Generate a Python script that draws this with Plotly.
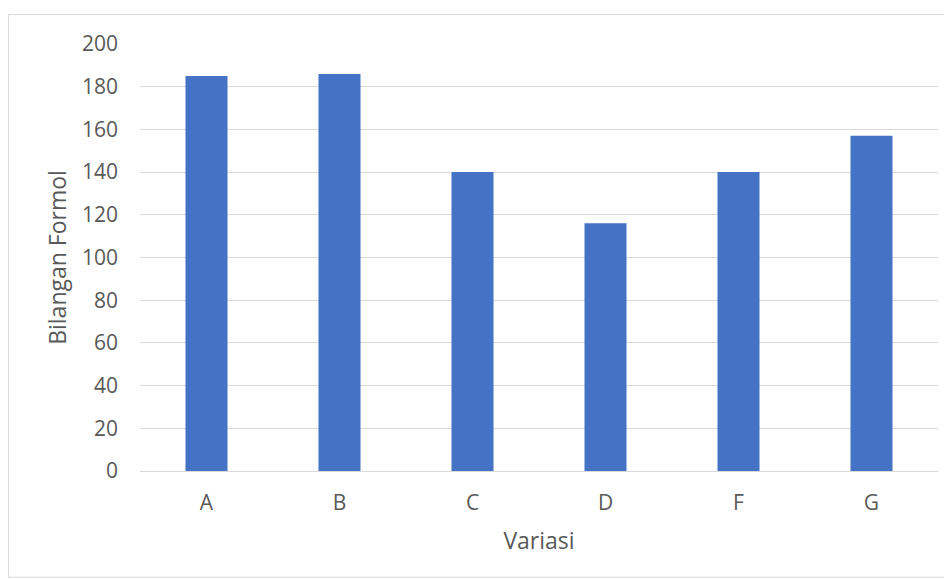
import plotly.graph_objects as go

categories = ["A", "B", "C", "D", "F", "G"]
values = [185, 186, 140, 116, 140, 157]
y_ticks = [0, 20, 40, 60, 80, 100, 120, 140, 160, 180, 200]

# the page body has an 8px margin, so the figure is sized to fit the 952x580 window
W, H = 944, 572
L, R, T, B = 132, 13.5, 35.5, 108.5
pw, ph = W - L - R, H - T - B

def px_x(p):
    return (p - L) / pw

def px_y(p):
    return (H - B - p) / ph

fig = go.Figure(go.Bar(
    x=categories, y=values,
    marker=dict(color="#4472C4", line=dict(width=0)),
))

font = dict(family="Open Sans, Liberation Sans, sans-serif", color="#595959")

fig.update_layout(
    width=W, height=H,
    margin=dict(l=L, r=R, t=T, b=B),
    paper_bgcolor="white", plot_bgcolor="white",
    bargap=0.684,
    showlegend=False,
    font=dict(**font, size=21),
    xaxis=dict(
        showgrid=False, showline=False, zeroline=False,
        ticks="", tickfont=dict(size=21), ticklabelstandoff=17,
        title=dict(text="Variasi", font=dict(size=23), standoff=17),
    ),
    yaxis=dict(
        range=[0, 200], tickvals=y_ticks,
        showgrid=True, gridcolor="#d9d9d9", gridwidth=1.4,
        zeroline=True, zerolinecolor="#d9d9d9", zerolinewidth=1.4,
        showline=False, ticks="", ticklabelstandoff=21,
        tickfont=dict(size=21),
        title=dict(text="Bilangan Formol", font=dict(size=23), standoff=8),
    ),
    shapes=[dict(
        type="rect", xref="paper", yref="paper",
        x0=px_x(0.5), x1=px_x(W + 2), y0=px_y(570), y1=px_y(6),
        line=dict(color="#d9d9d9", width=1), fillcolor="rgba(0,0,0,0)",
        layer="below",
    )],
)

fig.write_html("out.html")
